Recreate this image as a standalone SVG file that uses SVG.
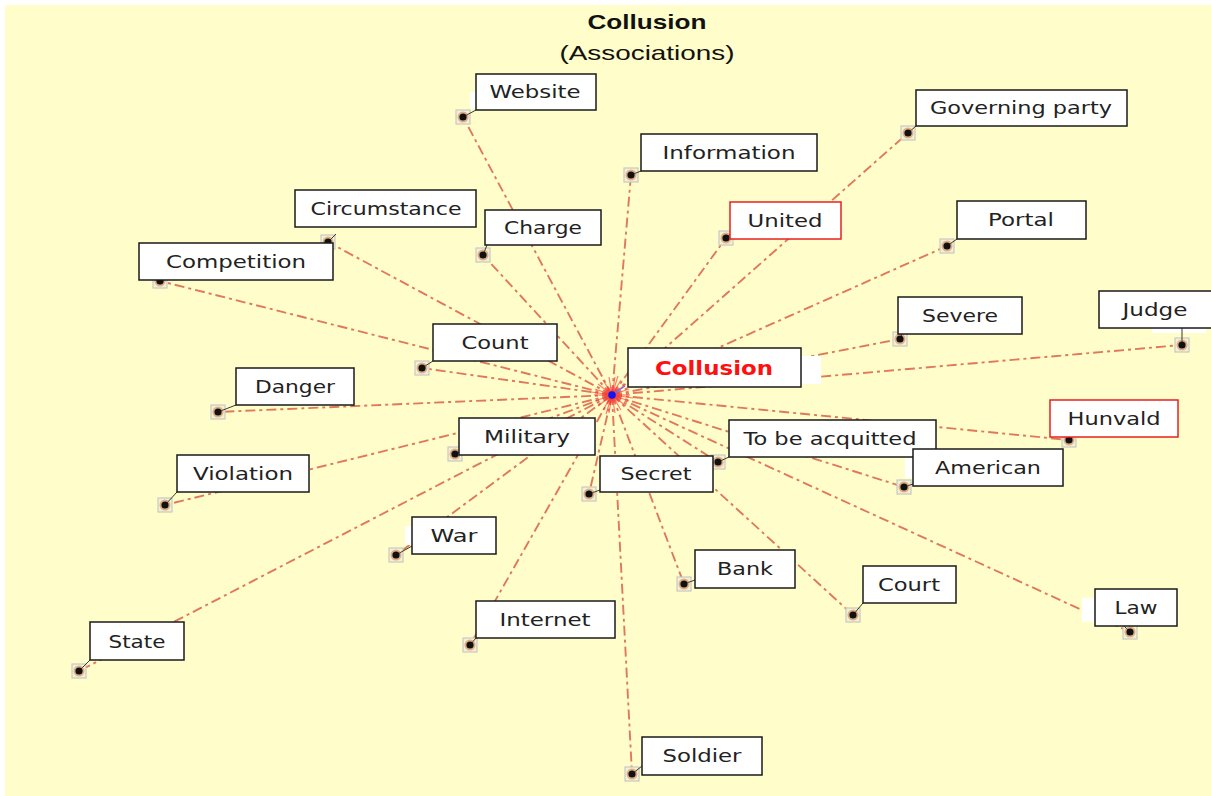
<svg xmlns="http://www.w3.org/2000/svg" width="1211" height="796" viewBox="0 0 1211 796">
  <defs>
    <style>
      .bg { fill: #fffdc9; }
      .title { font-family: "Liberation Sans", Arial, sans-serif; font-size: 21px; fill: #111; text-anchor: middle; }
      .box { fill: #ffffff; stroke: #1a1a1a; stroke-width: 1.5; }
      .box.hl { stroke: #e82020; }
      .lbl { font-family: "DejaVu Sans", Verdana, sans-serif; font-size: 18px; fill: #222; text-anchor: middle; }
      .main { font-family: "DejaVu Sans", Verdana, sans-serif; font-size: 19px; font-weight: bold; fill: #ff1010; text-anchor: middle; }
      .edge { stroke: #e0785c; stroke-width: 1.9; fill: none; stroke-dasharray: 10 4 3 4; }
      .burst { stroke: #ff2a2a; stroke-width: 1.2; opacity: 0.6; }
      .pin { fill: #f4f0d4; stroke: #c9c9c2; stroke-width: 1.2; }
      .halo { fill: #c0602a; opacity: 0.45; }
      .dot { fill: #111; }
      .lead { stroke: #3a3a2a; stroke-width: 1; }
      .patch { fill: #ffffff; }
    </style>
  </defs>

  <rect class="bg" x="5" y="5" width="1206" height="791"/>

  <text class="title" x="647" y="29" font-weight="bold" textLength="119" lengthAdjust="spacingAndGlyphs">Collusion</text>
  <text class="title" x="647" y="60" textLength="175" lengthAdjust="spacingAndGlyphs">(Associations)</text>

  <!-- spokes from the hub to every associated term -->
  <g id="connectors">
    <line class="edge" x1="612" y1="395" x2="463" y2="117"/>
    <line class="edge" x1="612" y1="395" x2="631" y2="175"/>
    <line class="edge" x1="612" y1="395" x2="908" y2="133"/>
    <line class="edge" x1="612" y1="395" x2="328" y2="242"/>
    <line class="edge" x1="612" y1="395" x2="483" y2="255"/>
    <line class="edge" x1="612" y1="395" x2="726" y2="238"/>
    <line class="edge" x1="612" y1="395" x2="947" y2="246"/>
    <line class="edge" x1="612" y1="395" x2="160" y2="281"/>
    <line class="edge" x1="612" y1="395" x2="900" y2="339"/>
    <line class="edge" x1="612" y1="395" x2="1182" y2="345"/>
    <line class="edge" x1="612" y1="395" x2="422" y2="368"/>
    <line class="edge" x1="612" y1="395" x2="218" y2="412"/>
    <line class="edge" x1="612" y1="395" x2="1069" y2="440"/>
    <line class="edge" x1="612" y1="395" x2="455" y2="454"/>
    <line class="edge" x1="612" y1="395" x2="718" y2="462"/>
    <line class="edge" x1="612" y1="395" x2="904" y2="487"/>
    <line class="edge" x1="612" y1="395" x2="165" y2="505"/>
    <line class="edge" x1="612" y1="395" x2="589" y2="494"/>
    <line class="edge" x1="612" y1="395" x2="396" y2="555"/>
    <line class="edge" x1="612" y1="395" x2="684" y2="584"/>
    <line class="edge" x1="612" y1="395" x2="853" y2="615"/>
    <line class="edge" x1="612" y1="395" x2="1130" y2="632"/>
    <line class="edge" x1="612" y1="395" x2="470" y2="645"/>
    <line class="edge" x1="612" y1="395" x2="79" y2="671"/>
    <line class="edge" x1="612" y1="395" x2="632" y2="774"/>
  </g>

  <!-- hub -->
  <g id="hub">
    <g class="burst">
      <line x1="612" y1="395" x2="630" y2="395"/>
      <line x1="612" y1="395" x2="629" y2="401"/>
      <line x1="612" y1="395" x2="626" y2="406"/>
      <line x1="612" y1="395" x2="621" y2="410"/>
      <line x1="612" y1="395" x2="615" y2="413"/>
      <line x1="612" y1="395" x2="609" y2="413"/>
      <line x1="612" y1="395" x2="603" y2="410"/>
      <line x1="612" y1="395" x2="598" y2="406"/>
      <line x1="612" y1="395" x2="595" y2="401"/>
      <line x1="612" y1="395" x2="594" y2="395"/>
      <line x1="612" y1="395" x2="595" y2="389"/>
      <line x1="612" y1="395" x2="598" y2="384"/>
      <line x1="612" y1="395" x2="603" y2="380"/>
      <line x1="612" y1="395" x2="609" y2="377"/>
      <line x1="612" y1="395" x2="615" y2="377"/>
      <line x1="612" y1="395" x2="621" y2="380"/>
      <line x1="612" y1="395" x2="626" y2="384"/>
      <line x1="612" y1="395" x2="629" y2="389"/>
      <line x1="612" y1="395" x2="633" y2="398"/>
      <line x1="612" y1="395" x2="591" y2="392"/>
      <line x1="612" y1="395" x2="606" y2="414"/>
      <line x1="612" y1="395" x2="618" y2="376"/>
    </g>
    <circle cx="612" cy="395" r="8" fill="#ff3030" opacity="0.4"/>
    <line x1="612" y1="395" x2="625" y2="386" stroke="#7070ff" stroke-width="1.5"/>
    <circle cx="612" cy="395" r="3.8" fill="#1414ee"/>
  </g>

  <g id="node-collusion">
    <rect class="patch" x="800" y="356" width="21" height="28"/>
    <rect class="box" x="628" y="348" width="173" height="39"/>
    <text class="main" x="714" y="375" textLength="118" lengthAdjust="spacingAndGlyphs">Collusion</text>
  </g>

  <g id="node-website">
    <rect class="patch" x="470" y="92" width="7" height="17"/>
    <rect class="pin" x="456" y="110" width="14" height="14"/>
    <line class="lead" x1="463" y1="117" x2="476" y2="110"/>
    <circle class="halo" cx="463" cy="117" r="5.5"/><circle class="dot" cx="463" cy="117" r="3.6"/>
    <rect class="box" x="476" y="74" width="120" height="36"/>
    <text class="lbl" x="535" y="98" textLength="91" lengthAdjust="spacingAndGlyphs">Website</text>
  </g>

  <g id="node-information">
    <rect class="pin" x="624" y="168" width="14" height="14"/>
    <line class="lead" x1="631" y1="175" x2="641" y2="171"/>
    <circle class="halo" cx="631" cy="175" r="5.5"/><circle class="dot" cx="631" cy="175" r="3.6"/>
    <rect class="box" x="641" y="134" width="176" height="37"/>
    <text class="lbl" x="729" y="159" textLength="133" lengthAdjust="spacingAndGlyphs">Information</text>
  </g>

  <g id="node-governing-party">
    <rect class="pin" x="901" y="126" width="14" height="14"/>
    <line class="lead" x1="908" y1="133" x2="916" y2="126"/>
    <circle class="halo" cx="908" cy="133" r="5.5"/><circle class="dot" cx="908" cy="133" r="3.6"/>
    <rect class="box" x="916" y="90" width="211" height="36"/>
    <text class="lbl" x="1021" y="114" textLength="182" lengthAdjust="spacingAndGlyphs">Governing party</text>
  </g>

  <g id="node-circumstance">
    <rect class="pin" x="321" y="235" width="14" height="14"/>
    <line class="lead" x1="328" y1="242" x2="336" y2="234"/>
    <circle class="halo" cx="328" cy="242" r="5.5"/><circle class="dot" cx="328" cy="242" r="3.6"/>
    <rect class="box" x="295" y="190" width="181" height="37"/>
    <text class="lbl" x="386" y="215" textLength="151" lengthAdjust="spacingAndGlyphs">Circumstance</text>
  </g>

  <g id="node-charge">
    <rect class="pin" x="476" y="248" width="14" height="14"/>
    <line class="lead" x1="483" y1="255" x2="487" y2="245"/>
    <circle class="halo" cx="483" cy="255" r="5.5"/><circle class="dot" cx="483" cy="255" r="3.6"/>
    <rect class="box" x="485" y="210" width="116" height="35"/>
    <text class="lbl" x="543" y="234" textLength="78" lengthAdjust="spacingAndGlyphs">Charge</text>
  </g>

  <g id="node-united">
    <rect class="pin" x="719" y="231" width="14" height="14"/>
    <line class="lead" x1="726" y1="238" x2="730" y2="234"/>
    <circle class="halo" cx="726" cy="238" r="5.5"/><circle class="dot" cx="726" cy="238" r="3.6"/>
    <rect class="box hl" x="730" y="202" width="111" height="37"/>
    <text class="lbl" x="785" y="227" textLength="75" lengthAdjust="spacingAndGlyphs">United</text>
  </g>

  <g id="node-portal">
    <rect class="pin" x="940" y="239" width="14" height="14"/>
    <line class="lead" x1="947" y1="246" x2="957" y2="239"/>
    <circle class="halo" cx="947" cy="246" r="5.5"/><circle class="dot" cx="947" cy="246" r="3.6"/>
    <rect class="box" x="957" y="201" width="129" height="38"/>
    <text class="lbl" x="1021" y="226" textLength="66" lengthAdjust="spacingAndGlyphs">Portal</text>
  </g>

  <g id="node-competition">
    <rect class="pin" x="153" y="274" width="14" height="14"/>
    <circle class="halo" cx="160" cy="281" r="5.5"/><circle class="dot" cx="160" cy="281" r="3.6"/>
    <rect class="box" x="139" y="243" width="194" height="37"/>
    <text class="lbl" x="236" y="268" textLength="140" lengthAdjust="spacingAndGlyphs">Competition</text>
  </g>

  <g id="node-severe">
    <rect class="pin" x="893" y="332" width="14" height="14"/>
    <line class="lead" x1="900" y1="339" x2="902" y2="334"/>
    <circle class="halo" cx="900" cy="339" r="5.5"/><circle class="dot" cx="900" cy="339" r="3.6"/>
    <rect class="box" x="898" y="297" width="124" height="37"/>
    <text class="lbl" x="960" y="322" textLength="76" lengthAdjust="spacingAndGlyphs">Severe</text>
  </g>

  <g id="node-judge">
    <rect class="patch" x="1152" y="328" width="54" height="5"/>
    <rect class="pin" x="1175" y="338" width="14" height="14"/>
    <line class="lead" x1="1182" y1="345" x2="1182" y2="328"/>
    <circle class="halo" cx="1182" cy="345" r="5.5"/><circle class="dot" cx="1182" cy="345" r="3.6"/>
    <rect class="box" x="1099" y="291" width="113" height="37"/>
    <text class="lbl" x="1155" y="316" textLength="65" lengthAdjust="spacingAndGlyphs">Judge</text>
  </g>

  <g id="node-count">
    <rect class="pin" x="415" y="361" width="14" height="14"/>
    <line class="lead" x1="422" y1="368" x2="433" y2="361"/>
    <circle class="halo" cx="422" cy="368" r="5.5"/><circle class="dot" cx="422" cy="368" r="3.6"/>
    <rect class="box" x="433" y="324" width="124" height="37"/>
    <text class="lbl" x="495" y="349" textLength="67" lengthAdjust="spacingAndGlyphs">Count</text>
  </g>

  <g id="node-danger">
    <rect class="pin" x="211" y="405" width="14" height="14"/>
    <line class="lead" x1="218" y1="412" x2="236" y2="405"/>
    <circle class="halo" cx="218" cy="412" r="5.5"/><circle class="dot" cx="218" cy="412" r="3.6"/>
    <rect class="box" x="236" y="368" width="118" height="37"/>
    <text class="lbl" x="295" y="393" textLength="80" lengthAdjust="spacingAndGlyphs">Danger</text>
  </g>

  <g id="node-hunvald">
    <rect class="pin" x="1062" y="433" width="14" height="14"/>
    <circle class="halo" cx="1069" cy="440" r="5.5"/><circle class="dot" cx="1069" cy="440" r="3.6"/>
    <rect class="box hl" x="1050" y="400" width="128" height="37"/>
    <text class="lbl" x="1114" y="425" textLength="93" lengthAdjust="spacingAndGlyphs">Hunvald</text>
  </g>

  <g id="node-military">
    <rect class="pin" x="448" y="447" width="14" height="14"/>
    <line class="lead" x1="455" y1="454" x2="459" y2="452"/>
    <circle class="halo" cx="455" cy="454" r="5.5"/><circle class="dot" cx="455" cy="454" r="3.6"/>
    <rect class="box" x="459" y="418" width="136" height="37"/>
    <text class="lbl" x="527" y="443" textLength="86" lengthAdjust="spacingAndGlyphs">Military</text>
  </g>

  <g id="node-to-be-acquitted">
    <rect class="pin" x="711" y="455" width="14" height="14"/>
    <line class="lead" x1="718" y1="462" x2="729" y2="457"/>
    <circle class="halo" cx="718" cy="462" r="5.5"/><circle class="dot" cx="718" cy="462" r="3.6"/>
    <rect class="box" x="729" y="420" width="207" height="37"/>
    <text class="lbl" x="830" y="445" textLength="173" lengthAdjust="spacingAndGlyphs">To be acquitted</text>
  </g>

  <g id="node-american">
    <rect class="patch" x="905" y="458" width="9" height="20"/>
    <rect class="pin" x="897" y="480" width="14" height="14"/>
    <line class="lead" x1="904" y1="487" x2="913" y2="484"/>
    <circle class="halo" cx="904" cy="487" r="5.5"/><circle class="dot" cx="904" cy="487" r="3.6"/>
    <rect class="box" x="913" y="449" width="150" height="37"/>
    <text class="lbl" x="988" y="474" textLength="106" lengthAdjust="spacingAndGlyphs">American</text>
  </g>

  <g id="node-violation">
    <rect class="pin" x="158" y="498" width="14" height="14"/>
    <line class="lead" x1="165" y1="505" x2="177" y2="492"/>
    <circle class="halo" cx="165" cy="505" r="5.5"/><circle class="dot" cx="165" cy="505" r="3.6"/>
    <rect class="box" x="177" y="455" width="132" height="37"/>
    <text class="lbl" x="243" y="480" textLength="100" lengthAdjust="spacingAndGlyphs">Violation</text>
  </g>

  <g id="node-secret">
    <rect class="pin" x="582" y="487" width="14" height="14"/>
    <line class="lead" x1="589" y1="494" x2="600" y2="490"/>
    <circle class="halo" cx="589" cy="494" r="5.5"/><circle class="dot" cx="589" cy="494" r="3.6"/>
    <rect class="box" x="600" y="456" width="113" height="36"/>
    <text class="lbl" x="656" y="480" textLength="71" lengthAdjust="spacingAndGlyphs">Secret</text>
  </g>

  <g id="node-war">
    <rect class="patch" x="405" y="526" width="8" height="19"/>
    <rect class="pin" x="389" y="548" width="14" height="14"/>
    <line class="lead" x1="396" y1="555" x2="412" y2="546"/>
    <circle class="halo" cx="396" cy="555" r="5.5"/><circle class="dot" cx="396" cy="555" r="3.6"/>
    <rect class="box" x="412" y="517" width="84" height="37"/>
    <text class="lbl" x="454" y="542" textLength="47" lengthAdjust="spacingAndGlyphs">War</text>
  </g>

  <g id="node-bank">
    <rect class="pin" x="677" y="577" width="14" height="14"/>
    <line class="lead" x1="684" y1="584" x2="695" y2="580"/>
    <circle class="halo" cx="684" cy="584" r="5.5"/><circle class="dot" cx="684" cy="584" r="3.6"/>
    <rect class="box" x="695" y="550" width="100" height="38"/>
    <text class="lbl" x="745" y="575" textLength="56" lengthAdjust="spacingAndGlyphs">Bank</text>
  </g>

  <g id="node-court">
    <rect class="pin" x="846" y="608" width="14" height="14"/>
    <line class="lead" x1="853" y1="615" x2="863" y2="603"/>
    <circle class="halo" cx="853" cy="615" r="5.5"/><circle class="dot" cx="853" cy="615" r="3.6"/>
    <rect class="box" x="863" y="566" width="93" height="37"/>
    <text class="lbl" x="909" y="591" textLength="62" lengthAdjust="spacingAndGlyphs">Court</text>
  </g>

  <g id="node-law">
    <rect class="patch" x="1082" y="598" width="14" height="24"/>
    <rect class="pin" x="1123" y="625" width="14" height="14"/>
    <line class="lead" x1="1130" y1="632" x2="1124" y2="626"/>
    <circle class="halo" cx="1130" cy="632" r="5.5"/><circle class="dot" cx="1130" cy="632" r="3.6"/>
    <rect class="box" x="1095" y="589" width="82" height="37"/>
    <text class="lbl" x="1136" y="614" textLength="43" lengthAdjust="spacingAndGlyphs">Law</text>
  </g>

  <g id="node-internet">
    <rect class="pin" x="463" y="638" width="14" height="14"/>
    <line class="lead" x1="470" y1="645" x2="476" y2="638"/>
    <circle class="halo" cx="470" cy="645" r="5.5"/><circle class="dot" cx="470" cy="645" r="3.6"/>
    <rect class="box" x="476" y="601" width="139" height="37"/>
    <text class="lbl" x="545" y="626" textLength="91" lengthAdjust="spacingAndGlyphs">Internet</text>
  </g>

  <g id="node-state">
    <rect class="pin" x="72" y="664" width="14" height="14"/>
    <line class="lead" x1="79" y1="671" x2="90" y2="660"/>
    <circle class="halo" cx="79" cy="671" r="5.5"/><circle class="dot" cx="79" cy="671" r="3.6"/>
    <rect class="box" x="90" y="622" width="94" height="38"/>
    <text class="lbl" x="137" y="648" textLength="57" lengthAdjust="spacingAndGlyphs">State</text>
  </g>

  <g id="node-soldier">
    <rect class="pin" x="625" y="767" width="14" height="14"/>
    <line class="lead" x1="632" y1="774" x2="642" y2="766"/>
    <circle class="halo" cx="632" cy="774" r="5.5"/><circle class="dot" cx="632" cy="774" r="3.6"/>
    <rect class="box" x="642" y="737" width="120" height="38"/>
    <text class="lbl" x="702" y="762" textLength="79" lengthAdjust="spacingAndGlyphs">Soldier</text>
  </g>
</svg>
